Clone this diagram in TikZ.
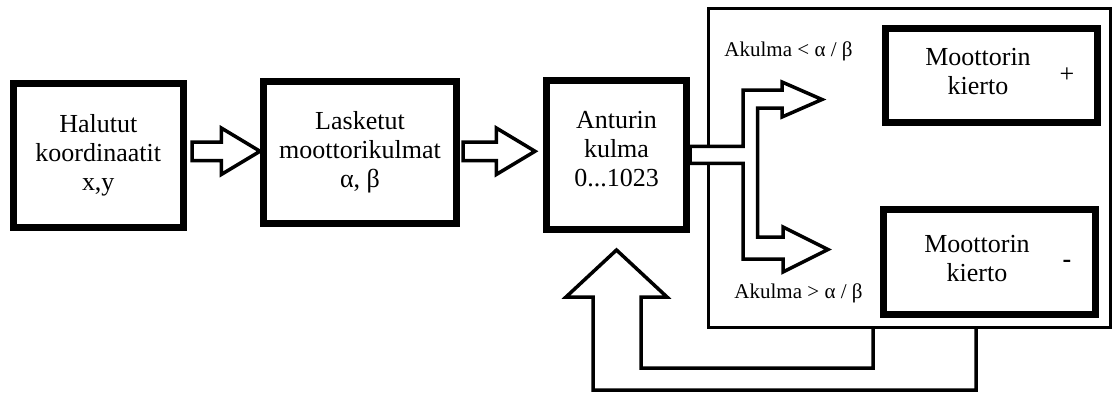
\documentclass[tikz,border=0pt]{standalone}
\usepackage{fontspec}
\setmainfont{Liberation Serif}
\usepackage{tikz}
\usetikzlibrary{shapes,arrows,positioning}
\tikzset{>=latex}
\tikzset{block/.style={draw, fill=white, line width=7pt, inner sep=0, align=center, font=\fontsize{26}{29}\selectfont}}
\tikzset{block-text/.style={inner sep=0, align=center, font=\fontsize{26}{29}\selectfont}}
\tikzset{outer-box/.style={draw, line width=3pt, outer sep=0, inner sep=0}}
\tikzset{fat-arrow/.style={
        single arrow,
        draw,
        fill=white,
        line width=3.5pt,
        inner sep=7.5pt,
        outer sep=0pt,
        minimum width=43pt,
        single arrow head extend=14pt,
        single arrow tip angle=62
    }
}
\tikzset{fat-line/.style={line width=3.5pt}}
\tikzset{cond-label/.style={inner sep=0, font=\fontsize{21}{24}\selectfont}}

\begin{document}
\begin{tikzpicture}[x=1pt, y=-1pt]
            \useasboundingbox (0,0) rectangle (1112,394);

            \node[block, minimum width=170.5pt, minimum height=144.5pt] (b1) at (98.25,155.25) {Halutut\\koordinaatit\\x,y};
            \node[block, minimum width=193pt, minimum height=142.5pt, right=73pt of b1, yshift=3pt] (b2) {Lasketut\\moottorikulmat\\α, β};
            \node[block, minimum width=140pt, minimum height=148.5pt, text depth=12pt, right=83pt of b2, yshift=-2.5pt] (b3) {Anturin\\kulma\\0...1023};

            \node[fat-arrow, minimum height=68pt, right=5pt of b1, yshift=4pt] (a1) {};
            \node[fat-arrow, minimum height=72pt, right=3pt of b2, yshift=1pt] (a2) {};

            \node[outer-box, minimum width=402.2pt, minimum height=319.2pt] (ctrl) at (909.4,167.9) {};

            % split arrow
            \coordinate (tipless) at (822,99.5);
            \coordinate (tipmore) at (828,249.5);
            \draw[fat-line, fill=white] ([yshift=8.5pt]b3.east) -- (743,146.25) -- (743,90) -- (782,90) -- (782,82) -- (tipless)
                -- (782,117) -- (782,108) -- (757.5,108) -- (757.5,237) -- (783,237) -- (783,227) -- (tipmore)
                -- (783,272) -- (783,259) -- (743,259) -- (743,163.25) -- ([yshift=-8.5pt]b3.east) -- cycle;

            \node[cond-label] (less) at (788.5,51) {Akulma < α / β};
            \node[cond-label] (more) at (798.5,293.5) {Akulma > α / β};

            \node[block, minimum width=212.5pt, minimum height=94.5pt] (mplus) at (991.25,75.25) {};
            \node[block-text] (mplustext) at (978,71.5) {Moottorin\\kierto};
            \node[block-text] (plus) at (1067,75) {+};

            \node[block, minimum width=212pt, minimum height=105pt] (mminus) at (989.5,261.5) {};
            \node[block-text] (mminustext) at (977,258.5) {Moottorin\\kierto};
            \node[block-text] (minus) at (1067,263.5) {\textbf{-}};

            % feedback
            \coordinate (fbtip) at ([yshift=-17.5pt]b3.south);
            \draw[fat-line] (873,0 |- ctrl.south) -- (873,368) -- (641,368) -- (641,297) -- (667,297) -- (fbtip)
                -- (566,297) -- (593,297) -- (593,390) -- (976,390) -- (976,0 |- ctrl.south);
        \end{tikzpicture}
\end{document}
